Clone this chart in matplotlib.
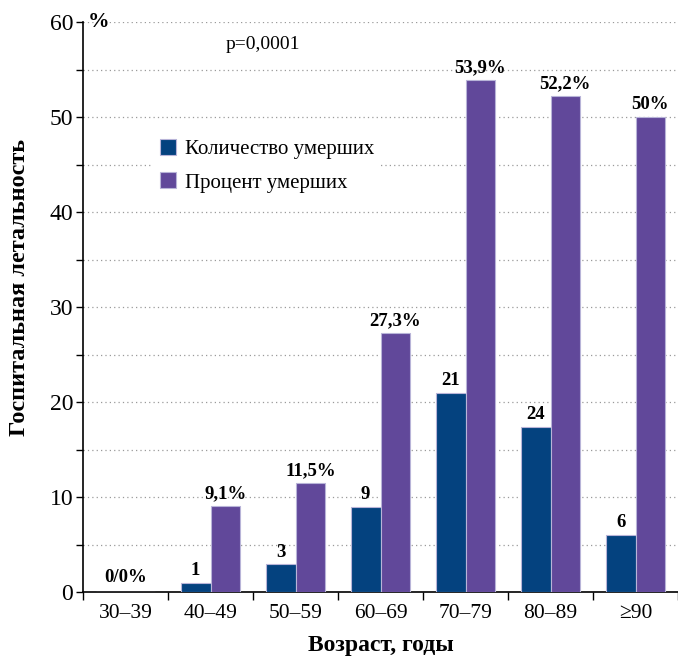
import matplotlib
matplotlib.use("Agg")
import matplotlib.pyplot as plt
import numpy as np

categories = ["30–39", "40–49", "50–59", "60–69", "70–79", "80–89", "≥90"]
deaths_labels = ["0/0%", "1", "3", "9", "21", "24", "6"]
deaths_heights = [0, 1, 2.9, 9, 21, 17.4, 6]
percent_values = [0, 9.1, 11.5, 27.3, 53.9, 52.2, 50]
percent_labels = ["", "9,1%", "11,5%", "27,3%", "53,9%", "52,2%", "50%"]
yticks_major = [0, 10, 20, 30, 40, 50, 60]

BLUE = "#04427F"
PURPLE = "#61489A"
FAM = ["Liberation Serif", "DejaVu Serif"]

plt.rcParams["font.family"] = FAM

fig = plt.figure(figsize=(6.78, 6.56), dpi=100)
ax = fig.add_axes([83/678, 1-592/656, 1-83/678, (592-22)/656])

x = np.arange(len(categories))
w = 0.35
ax.bar(x - w/2, deaths_heights, width=w, color=BLUE, edgecolor="#B8B4D8", linewidth=0.8, zorder=3,
       label="Количество умерших")
ax.bar(x + w/2, percent_values, width=w, color=PURPLE, edgecolor="#B8B4D8", linewidth=0.8, zorder=3,
       label="Процент умерших")

for i in range(len(categories)):
    if i == 0:
        ax.text(x[i], 0.6, deaths_labels[i], ha="center", va="bottom", fontsize=13.5,
                fontweight="bold", family=FAM)
        continue
    ax.text(x[i] - w/2, deaths_heights[i] + 0.4, deaths_labels[i], ha="center", va="bottom",
            fontsize=13.5, fontweight="bold", family=FAM)
    ax.text(x[i] + w/2, percent_values[i] + 0.4, percent_labels[i], ha="center", va="bottom",
            fontsize=13.5, fontweight="bold", family=FAM)

ax.set_xlim(-0.5, len(categories) - 0.5)
ax.set_ylim(0, 60)
ax.set_yticks(yticks_major)
ax.set_yticks(np.arange(5, 60, 10), minor=True)
ax.tick_params(axis="y", which="both", direction="out", length=5, width=1, labelsize=17, pad=2)
ax.set_xticks(x)
ax.set_xticklabels(categories)
ax.set_xticks(np.arange(-0.5, len(categories) - 0.4, 1.0), minor=True)
ax.tick_params(axis="x", which="major", length=0, labelsize=15.5, pad=9)
ax.tick_params(axis="x", which="minor", direction="out", length=6, width=1)
for lab in ax.get_xticklabels() + ax.get_yticklabels():
    lab.set_family(FAM)

for yv in np.arange(5, 61, 5):
    ax.axhline(yv, color="#9A9A9A", linestyle=(0, (1, 2.5)), linewidth=0.9, zorder=1)

for s in ["top", "right"]:
    ax.spines[s].set_visible(False)
ax.spines["left"].set_linewidth(1.2)
ax.spines["bottom"].set_linewidth(1.2)

ax.text(-0.44, 60, "%", ha="left", va="center", fontsize=15.5, fontweight="bold", family=FAM)
ax.text(1.62, 57.6, "p=0,0001", ha="center", va="center", fontsize=14, family=FAM)

ax.set_ylabel("Госпитальная летальность", fontsize=17.5, fontweight="bold", family=FAM,
              va="center")
ax.yaxis.set_label_coords(-0.106, 0.535)
ax.set_xlabel("Возраст, годы", fontsize=17, fontweight="bold", family=FAM, va="center")
ax.xaxis.set_label_coords(0.5, -0.093)

leg = ax.legend(loc="upper left", bbox_to_anchor=((143-83)/(678-83), (592-122)/570),
                frameon=True, prop={"family": FAM, "size": 15}, handlelength=0.8, handleheight=0.8,
                handletextpad=0.4, labelspacing=0.65, borderpad=0.3)
leg.get_frame().set_edgecolor("none")
leg.get_frame().set_facecolor("white")
leg.get_frame().set_alpha(1)
leg.set_zorder(2)

fig.savefig("out.png", dpi=100)
